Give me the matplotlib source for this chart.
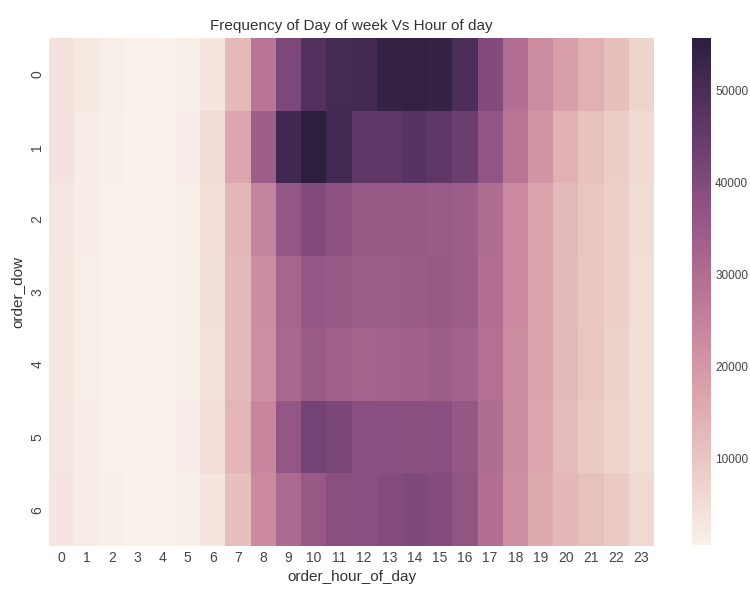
import numpy as np
import matplotlib
matplotlib.use("Agg")
import matplotlib.pyplot as plt
import seaborn as sns

# order counts by day of week (rows) and hour of day (columns)
hours = list(range(24))
days = list(range(7))
dow_0 = [3936, 2398, 1409, 963, 813, 1168, 3329, 12410, 28108, 40798, 48465, 51035,
         51443, 53849, 54552, 53954, 49463, 39753, 29572, 22654, 18277, 14423, 11246, 6887]
dow_1 = [3674, 1830, 1105, 748, 809, 1607, 5370, 16571, 34116, 51908, 55671, 51584,
         46079, 46526, 47774, 46519, 44004, 36921, 28243, 20459, 14195, 10762, 8503, 5605]
dow_2 = [3059, 1572, 943, 719, 744, 1399, 4758, 13245, 24635, 36314, 39740, 37857,
         35124, 35465, 35483, 35000, 34317, 30125, 23100, 17297, 12860, 9974, 7930, 5213]
dow_3 = [2952, 1495, 953, 654, 719, 1355, 4562, 12396, 22553, 32312, 36146, 35296,
         34072, 34221, 34736, 35548, 34349, 29768, 22958, 17165, 12640, 10084, 7869, 5013]
dow_4 = [2642, 1512, 899, 686, 730, 1330, 4401, 12493, 21814, 31409, 34917, 33837,
         32793, 33165, 33733, 34068, 33521, 29301, 22599, 17205, 12862, 9964, 7700, 4931]
dow_5 = [3189, 1672, 1016, 841, 910, 1574, 4866, 13434, 24015, 36292, 42410, 41174,
         38181, 38163, 38709, 38456, 35917, 30064, 22620, 16445, 12013, 9126, 7106, 5077]
dow_6 = [3306, 1919, 1214, 863, 802, 1136, 3243, 11319, 22960, 30839, 35665, 38748,
         38093, 39528, 40364, 39409, 36799, 29572, 21716, 15889, 13085, 11001, 9181, 6240]

sns.set_style("darkgrid")
plt.rcParams["font.family"] = ["Liberation Sans", "DejaVu Sans"]

grid = np.array([dow_0, dow_1, dow_2, dow_3, dow_4, dow_5, dow_6])

fig = plt.figure(figsize=(7.5, 5.97), dpi=100)
ax = fig.add_axes([49 / 750, 1 - 546 / 597, (654 - 49) / 750, (546 - 38) / 597])
cax = fig.add_axes([692 / 750, 1 - 545 / 597, 19 / 750, (545 - 38) / 597])

cmap = sns.cubehelix_palette(light=.95, as_cmap=True)
sns.heatmap(grid, cmap=cmap, ax=ax, cbar_ax=cax,
            xticklabels=hours, yticklabels=days)

ax.set_title("Frequency of Day of week Vs Hour of day", fontsize=11, color="#333333")
ax.set_xlabel("order_hour_of_day", fontsize=11, color="#333333", labelpad=4)
ax.set_ylabel("order_dow", fontsize=11, color="#333333")
ax.tick_params(axis="both", length=0, labelsize=10, colors="#444444")
plt.setp(ax.get_yticklabels(), rotation=90, va="center")
plt.setp(ax.get_xticklabels(), rotation=0)
cax.tick_params(length=0, labelsize=8.5, colors="#444444", pad=3)
cax.yaxis.set_major_locator(matplotlib.ticker.MultipleLocator(10000))

fig.savefig("out.png", dpi=100)
